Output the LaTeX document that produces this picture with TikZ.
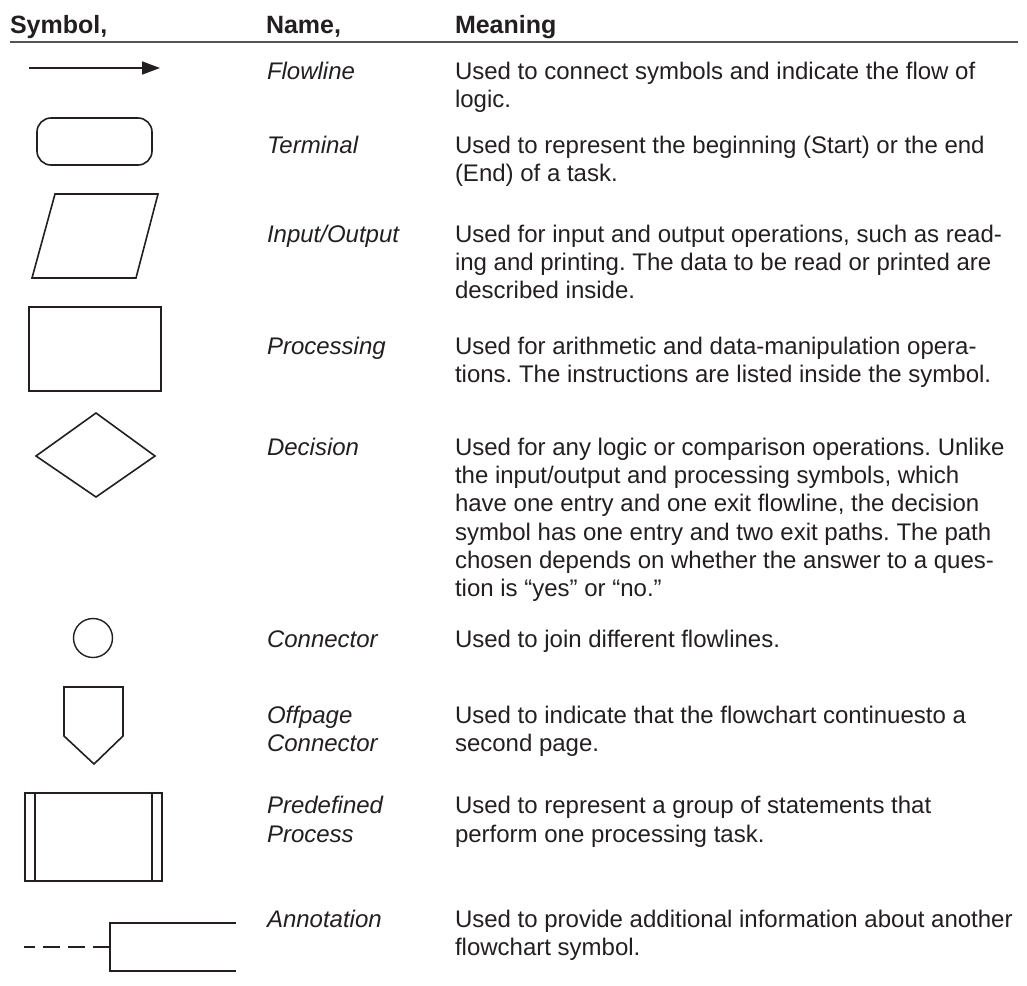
\documentclass[tikz,border=0pt]{standalone}
\usepackage{fontspec}
\setmainfont{Liberation Sans}
\usetikzlibrary{arrows.meta}
\definecolor{ink}{HTML}{231F20}
\definecolor{rule}{HTML}{555555}
\frenchspacing
\tikzset{
  txt/.style={anchor=base west, inner sep=0pt, outer sep=0pt, text=ink, font=\fontsize{24}{28}\selectfont},
  nm/.style={txt, font=\fontsize{24}{28}\selectfont\itshape},
  hd/.style={txt, font=\fontsize{25}{28}\selectfont\bfseries},
  shp/.style={draw=ink, line width=1.6pt, line join=miter},
}
\begin{document}
\begin{tikzpicture}[x=1pt,y=-1pt]
\useasboundingbox (0,0) rectangle (1027,985);
% header
\node[hd] (hsym) at (10,33) {Symbol,};
\node[hd] (hname) at (266,33) {Name,};
\node[hd] (hmean) at (455,33) {Meaning};
\coordinate (rl) at (10,42);
\coordinate (rr) at (1018,42);
\draw[draw=rule, line width=1.5pt] (rl) -- (rr);

% Flowline
\coordinate (fa) at (29,68);
\coordinate (fb) at (160,68);
\draw[shp, -{Triangle[length=18pt,width=13pt]}] (fa) -- (fb);
\node[nm] (n1) at (267,79) {Flowline};
\node[txt] (m1a) at (455,79) {Used to connect symbols and indicate the flow of};
\node[txt] (m1b) at (455,107) {logic.};

% Terminal
\draw[shp, rounded corners=14pt] (37,118) rectangle (152,165);
\node[nm] (n2) at (267,153) {Terminal};
\node[txt] (m2a) at (455,153) {Used to represent the beginning (Start) or the end};
\node[txt] (m2b) at (455,181) {(End) of a task.};

% Input/Output
\draw[shp] (55,194) -- (158,194) -- (136,278) -- (32,278) -- cycle;
\node[nm] (n3) at (267,242) {Input/Output};
\node[txt] (m3a) at (455,242) {Used for input and output operations, such as read-};
\node[txt] (m3b) at (455,270) {ing and printing. The data to be read or printed are};
\node[txt] (m3c) at (455,298) {described inside.};

% Processing
\draw[shp] (29,307) rectangle (161,391);
\node[nm] (n4) at (267,354) {Processing};
\node[txt] (m4a) at (455,354) {Used for arithmetic and data-manipulation opera-};
\node[txt] (m4b) at (455,382) {tions. The instructions are listed inside the symbol.};

% Decision
\draw[shp] (36,456) -- (96,413) -- (155,456) -- (96,497) -- cycle;
\node[nm] (n5) at (267,455) {Decision};
\node[txt] (m5a) at (455,455) {Used for any logic or comparison operations. Unlike};
\node[txt] (m5b) at (455,483) {the input/output and processing symbols, which};
\node[txt] (m5c) at (455,511) {have one entry and one exit flowline, the decision};
\node[txt] (m5d) at (455,540) {symbol has one entry and two exit paths. The path};
\node[txt] (m5e) at (455,568) {chosen depends on whether the answer to a ques-};
\node[txt] (m5f) at (455,596) {tion is “yes” or “no.”};

% Connector
\draw[shp, line width=1.4pt] (93,638) circle (19.5);
\node[nm] (n6) at (267,647) {Connector};
\node[txt] (m6a) at (455,647) {Used to join different flowlines.};

% Offpage connector
\draw[shp] (64,687) -- (123,687) -- (123,736) -- (94,764) -- (64,736) -- cycle;
\node[nm] (n7a) at (267,723) {Offpage};
\node[nm] (n7b) at (267,751) {Connector};
\node[txt] (m7a) at (455,723) {Used to indicate that the flowchart continuesto a};
\node[txt] (m7b) at (455,751) {second page.};

% Predefined process
\draw[shp, line width=1.2pt] (25,793) rectangle (162,881);
\draw[shp, line width=1.4pt] (35,793) -- (35,881);
\draw[shp, line width=1.4pt] (152,793) -- (152,881);
\node[nm] (n8a) at (267,813) {Predefined};
\node[nm] (n8b) at (267,842) {Process};
\node[txt] (m8a) at (455,813) {Used to represent a group of statements that};
\node[txt] (m8b) at (455,842) {perform one processing task.};

% Annotation
\coordinate (ad) at (24,947);
\coordinate (ab) at (110,947);
\draw[shp, dash pattern=on 17pt off 8pt, dash phase=6pt] (ad) -- (ab);
\draw[shp, line width=1.4pt] (236,923) -- (110,923) -- (110,971) -- (236,971);
\node[nm] (n9) at (267,927) {Annotation};
\node[txt] (m9a) at (455,927) {Used to provide additional information about another};
\node[txt] (m9b) at (455,955) {flowchart symbol.};
\end{tikzpicture}
\end{document}
